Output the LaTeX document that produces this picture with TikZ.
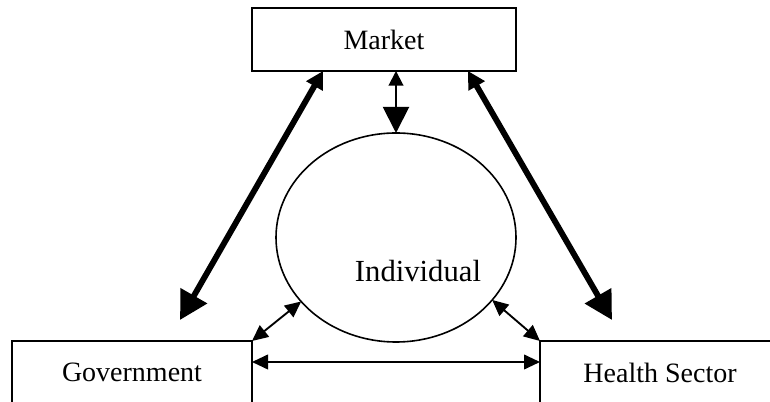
\documentclass[tikz,border=0pt]{standalone}
\usepackage{fontspec}
\setmainfont{Liberation Serif}
\usetikzlibrary{positioning,calc,shapes.geometric,arrows.meta}

\begin{document}
\begin{tikzpicture}[x=0.75pt,y=0.75pt,
				box/.style={draw,rectangle,line width=1.3pt,minimum height=47.25pt,inner sep=0pt,outer sep=0pt,font=\fontsize{21pt}{25pt}\selectfont},
				person/.style={draw,ellipse,line width=1.2pt,minimum width=180pt,minimum height=156.75pt,inner sep=0pt,outer sep=0pt},
				link/.style={line width=1.4pt,{Triangle[length=12pt,width=11pt]}-{Triangle[length=12pt,width=11pt]}},
				biglink/.style={line width=4.4pt,{Triangle[length=13pt,width=13.5pt]}-{Triangle[length=21pt,width=22pt]}}]
				\useasboundingbox (0,0) rectangle (770,402);
				\clip (0,0) rectangle (770,402);
				\node (MARKET) [box,minimum width=198pt] at (384,362.5) {Market};
				\node (GOV)    [box,minimum width=180pt] at (132,29.5)  {Government};
				\node (HEALTH) [box,minimum width=180pt] at (660,29.5)  {Health Sector};
				\node (IND)    [person]                  at (396,164.5) {};
				\node (INDTXT) [font=\fontsize{23pt}{27pt}\selectfont] at (418,131) {Individual};
				
				\draw[line width=1.5pt,{Triangle[length=11pt,width=11pt]}-{Triangle[length=19.5pt,width=19.5pt]}]
					(IND.north |- MARKET.south) -- (IND.north);
				\draw[biglink] ($(MARKET.south west)+(71,0)$)  -- ($(GOV.north)+(48,21)$);
				\draw[biglink] ($(MARKET.south east)+(-48,0)$) -- ($(HEALTH.north)+(-48,21)$);
				\draw[link] (GOV.north east) -- (IND.214);
				\draw[link] (HEALTH.north west) -- (IND.-33);
				\draw[link] ($(GOV.north east)+(0,-21)$) -- ($(HEALTH.north west)+(0,-21)$);
			\end{tikzpicture}
\end{document}
